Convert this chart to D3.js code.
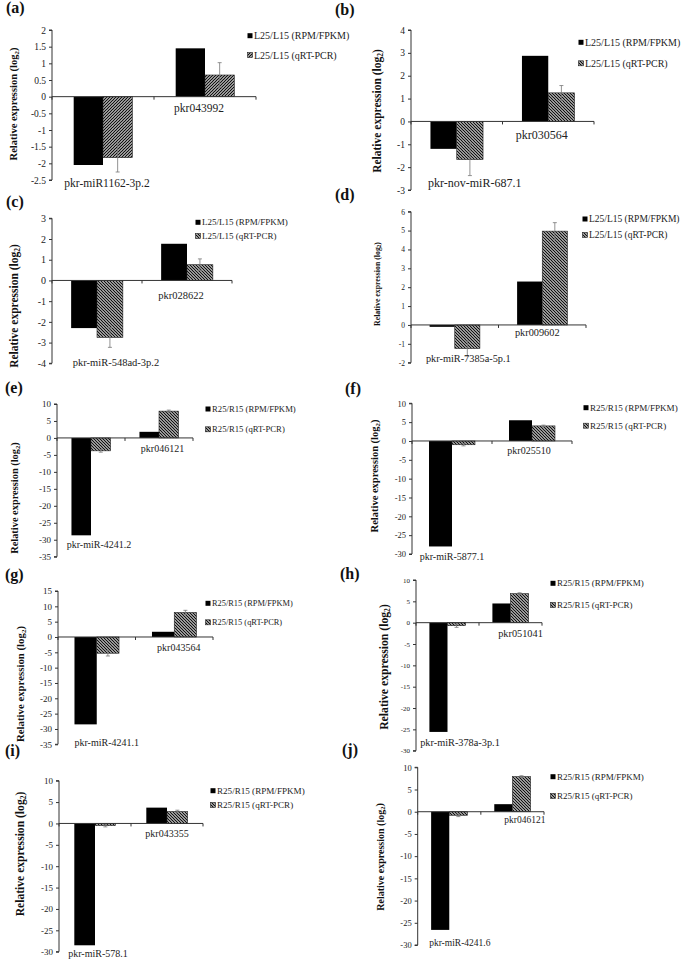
<!DOCTYPE html>
<html>
<head>
<meta charset="utf-8">
<script src="https://cdn.jsdelivr.net/npm/d3@7"></script>
<style>
  html, body { margin: 0; padding: 0; background: #fff; }
  svg { display: block; }
  text { font-family: "Liberation Serif", "Times New Roman", serif; }
</style>
</head>
<body>
<svg id="chart" width="685" height="961"></svg>
<script>
// ---------------- DATA ----------------
const panelLetters = ["(a)", "(b)", "(c)", "(d)", "(e)", "(f)", "(g)", "(h)", "(i)", "(j)"];
const categories = [
  ["pkr-miR1162-3p.2", "pkr043992"],
  ["pkr-nov-miR-687.1", "pkr030564"],
  ["pkr-miR-548ad-3p.2", "pkr028622"],
  ["pkr-miR-7385a-5p.1", "pkr009602"],
  ["pkr-miR-4241.2", "pkr046121"],
  ["pkr-miR-5877.1", "pkr025510"],
  ["pkr-miR-4241.1", "pkr043564"],
  ["pkr-miR-378a-3p.1", "pkr051041"],
  ["pkr-miR-578.1", "pkr043355"],
  ["pkr-miR-4241.6", "pkr046121"]
];
const rpmFpkm = [
  [-2.05, 1.45], [-1.2, 2.87], [-2.3, 1.77], [-0.1, 2.3], [-28.7, 1.8],
  [-28.0, 5.5], [-28.5, 1.7], [-25.6, 4.5], [-28.5, 3.7], [-26.6, 1.7]
];
const qrtPcr = [
  [-1.83, 0.65], [-1.67, 1.25], [-2.75, 0.76], [-1.25, 4.97], [-3.8, 7.9],
  [-1.0, 4.0], [-5.3, 8.0], [-0.7, 6.8], [-0.5, 2.8], [-0.8, 7.9]
];
const qrtPcrErr = [
  [0.43, 0.37], [0.7, 0.32], [0.48, 0.28], [0.4, 0.45], [0.4, 0.3],
  [0.3, 0.2], [0.9, 0.7], [0.4, 0.2], [0.3, 0.3], [0.3, 0.2]
];
const legendLabels = [
  ["L25/L15 (RPM/FPKM)", "L25/L15 (qRT-PCR)"],
  ["L25/L15 (RPM/FPKM)", "L25/L15 (qRT-PCR)"],
  ["L25/L15 (RPM/FPKM)", "L25/L15 (qRT-PCR)"],
  ["L25/L15 (RPM/FPKM)", "L25/L15 (qRT-PCR)"],
  ["R25/R15 (RPM/FPKM)", "R25/R15 (qRT-PCR)"],
  ["R25/R15 (RPM/FPKM)", "R25/R15 (qRT-PCR)"],
  ["R25/R15 (RPM/FPKM)", "R25/R15 (qRT-PCR)"],
  ["R25/R15 (RPM/FPKM)", "R25/R15 (qRT-PCR)"],
  ["R25/R15 (RPM/FPKM)", "R25/R15 (qRT-PCR)"],
  ["R25/R15 (RPM/FPKM)", "R25/R15 (qRT-PCR)"]
];
const yMin  = [-2.5, -3, -4, -2, -35, -30, -35, -30, -30, -30];
const yMax  = [2, 4, 3, 6, 10, 10, 15, 10, 10, 10];
const yStep = [0.5, 1, 1, 1, 5, 5, 5, 5, 5, 5];
const yTitle = "Relative expression (log";

// ---------------- LAYOUT (pixels, styles) ----------------
const layout = [
  {ax:52,  top:30,    bottom:180,   right:256, tickFs:9.5, catFs:11.5, legFs:10,  legX:254, legY:[35.7,55],    tX:13.5, tY:104, tFs:10.5, lx:6,   ly:13,  hatch:"/",  cdx:[4,-6],     cdy:[3,11]},
  {ax:411, top:30,    bottom:190,   right:594, tickFs:9.5, catFs:12,   legFs:10,  legX:585, legY:[42.3,63.3],  tX:377,  tY:111, tFs:11.5, lx:335, ly:15,  hatch:"\\", cdx:[18,-6.5],  cdy:[-7,13.6]},
  {ax:52,  top:218.3, bottom:363.3, right:232, tickFs:10,  catFs:10.5, legFs:9,   legX:202, legY:[222.3,236],  tX:14,   tY:306, tFs:11.5, lx:6,   ly:207, hatch:"\\", cdx:[19,-6],    cdy:[-1,14.6]},
  {ax:411, top:211.7, bottom:362.7, right:586, tickFs:7.5, catFs:10.3, legFs:9.5, legX:589, legY:[219,235],    tX:377,  tY:284, tFs:7.8,  lx:335, ly:200, hatch:"\\", cdx:[13.6,-5],  cdy:[-4,7]},
  {ax:57,  top:404,   bottom:556.7, right:193, tickFs:9,   catFs:10,   legFs:8.7, legX:212, legY:[409,429.3],  tX:14,   tY:498, tFs:10.4, lx:5,   ly:393, hatch:"\\", cdx:[8,3.5],    cdy:[-12,11]},
  {ax:412, top:403.3, bottom:554,   right:572, tickFs:8.5, catFs:10,   legFs:9.1, legX:590, legY:[407.7,425.7],tX:374,  tY:476, tFs:10.5, lx:345, ly:394, hatch:"\\", cdx:[0,-3],     cdy:[2,10]},
  {ax:58,  top:591,   bottom:744.3, right:213, tickFs:9,   catFs:10,   legFs:8.4, legX:212, legY:[603.3,622.3],tX:20,   tY:684, tFs:10.8, lx:5,   ly:580, hatch:"\\", cdx:[10,4.5],   cdy:[-2,11]},
  {ax:416, top:580,   bottom:750.7, right:542, tickFs:7,   catFs:10.3, legFs:9,   legX:557, legY:[583.3,605],  tX:384,  tY:667, tFs:11.7, lx:340, ly:579, hatch:"\\", cdx:[12.5,10],  cdy:[-8,10.5]},
  {ax:59,  top:780.7, bottom:951.7, right:203, tickFs:9,   catFs:10,   legFs:9.1, legX:217, legY:[790.7,805],  tX:20,   tY:854, tFs:11.6, lx:5,   ly:756, hatch:"\\", cdx:[3,0],      cdy:[2,9.6]},
  {ax:417.7,top:767.3,bottom:945,   right:544, tickFs:8.5, catFs:9.5,  legFs:9,   legX:557, legY:[776.7,796],  tX:380,  tY:857, tFs:10,   lx:342, ly:755, hatch:"\\", cdx:[10.5,12.5],cdy:[-2,8.3]}
];

const serif = "Liberation Serif, Times New Roman, serif";
const svg = d3.select("#chart");
const defs = svg.append("defs");
function makePattern(id, dir) {
  const p = defs.append("pattern").attr("id", id)
    .attr("patternUnits", "userSpaceOnUse").attr("width", 3).attr("height", 3);
  p.append("rect").attr("width", 3).attr("height", 3).attr("fill", "#fff");
  const d = dir === "/" ? "M-1,1 L1,-1 M0,3 L3,0 M2,4 L4,2" : "M-1,2 L1,4 M0,0 L3,3 M2,-1 L4,1";
  p.append("path").attr("d", d).attr("stroke", "#111").attr("stroke-width", 1.25);
}
makePattern("hatchF", "/");
makePattern("hatchB", "\\");

const axisColor = "#333";
const series = ["rpm", "qpcr"];

layout.forEach((L, i) => {
  const g = svg.append("g");
  const cats = categories[i];
  const y = d3.scaleLinear().domain([yMin[i], yMax[i]]).range([L.bottom, L.top]);
  const x0 = d3.scaleBand().domain(cats).range([L.ax, L.right]).paddingInner(0).paddingOuter(0);
  const x1 = d3.scaleBand().domain(series).range([0, x0.bandwidth()]).paddingInner(0).paddingOuter(0.74);
  const fillId = L.hatch === "/" ? "url(#hatchF)" : "url(#hatchB)";
  const y0 = y(0);

  // panel letter
  g.append("text").attr("x", L.lx).attr("y", L.ly).attr("font-size", 16).attr("font-weight", "bold")
    .attr("font-family", serif).attr("fill", "#111").text(panelLetters[i]);

  // bars
  cats.forEach((c, k) => {
    const vals = [rpmFpkm[i][k], qrtPcr[i][k]];
    vals.forEach((v, s) => {
      const bx = x0(c) + x1(series[s]);
      g.append("rect")
        .attr("x", bx).attr("width", x1.bandwidth())
        .attr("y", Math.min(y(v), y0)).attr("height", Math.abs(y(v) - y0))
        .attr("fill", s === 0 ? "#000" : fillId)
        .attr("stroke", s === 0 ? "none" : "#222").attr("stroke-width", 0.6);
    });
    // error bar on qRT-PCR
    const v = qrtPcr[i][k], e = qrtPcrErr[i][k];
    const cx = x0(c) + x1("qpcr") + x1.bandwidth() / 2;
    const eg = g.append("g").attr("stroke", "#777").attr("stroke-width", 0.8);
    eg.append("line").attr("x1", cx).attr("x2", cx).attr("y1", y(v - e)).attr("y2", y(v + e));
    eg.append("line").attr("x1", cx - 2).attr("x2", cx + 2).attr("y1", y(v - e)).attr("y2", y(v - e));
    eg.append("line").attr("x1", cx - 2).attr("x2", cx + 2).attr("y1", y(v + e)).attr("y2", y(v + e));
  });

  // y axis
  const ticks = d3.range(yMin[i], yMax[i] + yStep[i] / 2, yStep[i]).map(t => Math.round(t * 100) / 100);
  const yAxis = d3.axisLeft(y).tickValues(ticks).tickSize(3).tickPadding(3)
    .tickFormat(t => String(t));
  const ya = g.append("g").attr("transform", `translate(${L.ax},0)`).call(yAxis)
    .attr("font-family", serif);
  ya.select(".domain").attr("stroke", axisColor).attr("d", `M-3,${L.top}H0V${L.bottom}H-3`);
  ya.selectAll(".tick line").attr("stroke", axisColor);
  ya.selectAll(".tick text").attr("font-size", L.tickFs).attr("fill", "#222")
    .attr("font-family", serif);

  // x axis (at zero)
  const xa = g.append("g").attr("transform", `translate(0,${y0})`);
  xa.append("line").attr("x1", L.ax).attr("x2", L.right).attr("y1", 0).attr("y2", 0)
    .attr("stroke", axisColor).attr("stroke-width", 1);
  const bounds = cats.map(c => x0(c)).concat([x0(cats[cats.length - 1]) + x0.bandwidth()]);
  bounds.forEach(bx => {
    xa.append("line").attr("x1", bx).attr("x2", bx).attr("y1", 0).attr("y2", 3)
      .attr("stroke", axisColor).attr("stroke-width", 1);
  });

  // category labels
  cats.forEach((c, k) => {
    const cx = x0(c) + x0.bandwidth() / 2 + L.cdx[k];
    const cy = (k === 0 ? L.bottom : y0) + L.cdy[k];
    g.append("text").attr("x", cx).attr("y", cy).attr("dy", "0.35em")
      .attr("text-anchor", "middle").attr("font-size", L.catFs).attr("fill", "#222")
      .attr("font-family", serif).text(c);
  });

  // y title
  const tt = g.append("text")
    .attr("transform", `translate(${L.tX},${L.tY}) rotate(-90)`)
    .attr("text-anchor", "middle").attr("dy", "0.35em")
    .attr("font-size", L.tFs).attr("font-weight", "bold").attr("fill", "#111")
    .attr("font-family", serif);
  tt.append("tspan").text(yTitle);
  tt.append("tspan").attr("font-size", L.tFs * 0.65).attr("dy", "0.3em").text("2");
  tt.append("tspan").attr("dy", "-0.2em").text(")");

  // legend
  legendLabels[i].forEach((lab, s) => {
    const ly = L.legY[s];
    const sz = 5;
    g.append("rect").attr("x", L.legX - sz - 1.5).attr("y", ly - sz / 2).attr("width", sz).attr("height", sz)
      .attr("fill", s === 0 ? "#000" : fillId).attr("stroke", s === 0 ? "none" : "#222").attr("stroke-width", 0.6);
    g.append("text").attr("x", L.legX).attr("y", ly).attr("dy", "0.35em")
      .attr("font-size", L.legFs).attr("fill", "#222").attr("font-family", serif).text(lab);
  });
});
</script>
</body>
</html>
